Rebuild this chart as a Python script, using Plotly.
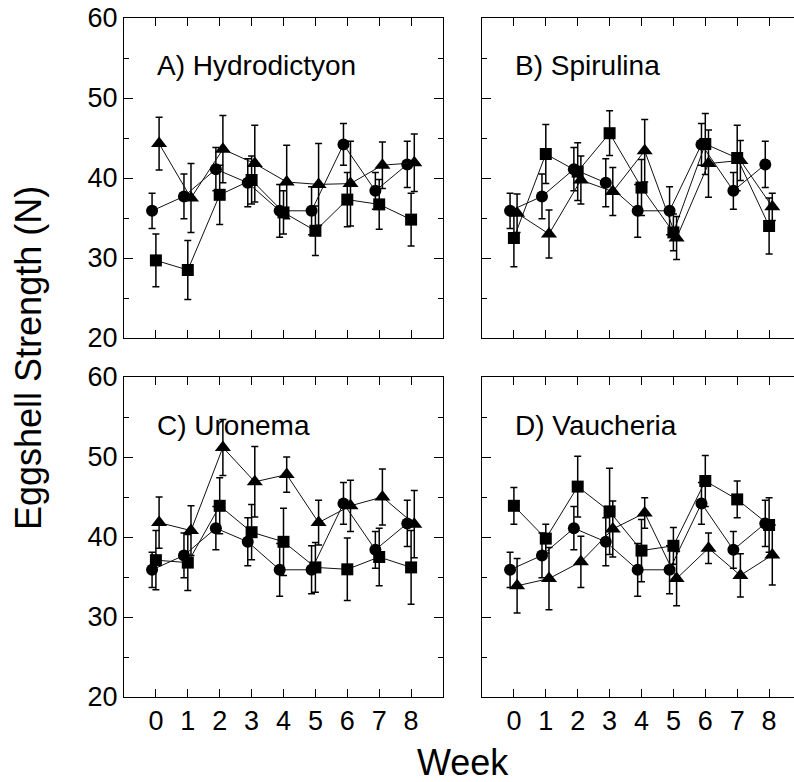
import plotly.graph_objects as go

# ---------------- data ----------------
weeks = [0, 1, 2, 3, 4, 5, 6, 7, 8]
week_labels = ["0", "1", "2", "3", "4", "5", "6", "7", "8"]
y_ticks = [20, 30, 40, 50, 60]
y_tick_labels = ["20", "30", "40", "50", "60"]
y_minor = [25, 35, 45, 55]

panel_titles = ["A) Hydrodictyon", "B) Spirulina", "C) Uronema", "D) Vaucheria"]

control_mean = [35.9, 37.7, 41.1, 39.4, 35.9, 35.9, 44.2, 38.4, 41.7]
control_err = [2.2, 2.8, 2.7, 3.0, 3.3, 3.0, 2.6, 2.3, 2.9]

a_sq_mean = [29.7, 28.5, 37.9, 39.75, 35.7, 33.4, 37.3, 36.7, 34.8]
a_sq_err = [3.3, 3.7, 3.7, 3.0, 2.7, 3.1, 3.4, 3.1, 3.3]
b_sq_mean = [32.5, 43.0, 40.8, 45.6, 38.8, 33.2, 44.25, 42.5, 34.0]
b_sq_err = [3.6, 3.7, 3.6, 2.8, 3.5, 2.3, 3.8, 4.1, 3.5]
c_sq_mean = [37.1, 36.8, 43.9, 40.6, 39.4, 36.2, 35.96, 37.5, 36.2]
c_sq_err = [3.7, 3.5, 3.5, 3.45, 4.2, 3.1, 3.9, 3.6, 4.6]
d_sq_mean = [43.9, 39.8, 46.3, 43.2, 38.3, 38.9, 47.0, 44.7, 41.5]
d_sq_err = [2.3, 1.8, 3.8, 5.4, 3.9, 2.3, 3.2, 2.3, 3.4]

a_tr_mean = [44.3, 37.5, 43.6, 41.8, 39.5, 39.2, 39.3, 41.6, 41.9]
a_tr_err = [3.3, 4.3, 4.2, 4.8, 4.6, 5.1, 5.3, 2.9, 3.6]
b_tr_mean = [35.6, 33.0, 39.75, 38.3, 43.4, 32.5, 41.8, 42.2, 36.4]
b_tr_err = [2.4, 3.0, 3.0, 3.0, 3.9, 2.7, 4.2, 2.5, 1.7]
c_tr_mean = [41.8, 40.8, 51.2, 46.9, 47.8, 41.8, 43.9, 45.0, 41.6]
c_tr_err = [3.2, 3.1, 3.5, 4.4, 2.2, 2.8, 3.2, 3.5, 4.2]
d_tr_mean = [33.9, 34.8, 36.9, 41.0, 43.0, 34.8, 38.6, 35.2, 37.75]
d_tr_err = [3.4, 3.9, 3.2, 3.5, 1.9, 3.4, 1.9, 2.7, 3.75]

W, H = 794, 782
FONT = "Arial, Liberation Sans, sans-serif"


def fx(p):
    return p / W


def fy(p):
    return 1 - p / H


left_dom = [fx(124), fx(443)]
right_dom = [fx(482), 1.0]
week_px = (443 - 124) / 10.0
left_range = [-1, 9]
right_range = [-1, -1 + (W - 482) / week_px]
top_dom = [fy(338), fy(18)]
bot_dom = [fy(697), fy(377)]

offsets = {"circle": -0.12, "square": 0.0, "triangle-up": 0.1}
sizes = {"circle": 12, "square": 12, "triangle-up": 14}

panels = [
    ("x", "y", a_sq_mean, a_sq_err, a_tr_mean, a_tr_err),
    ("x2", "y2", b_sq_mean, b_sq_err, b_tr_mean, b_tr_err),
    ("x3", "y3", c_sq_mean, c_sq_err, c_tr_mean, c_tr_err),
    ("x4", "y4", d_sq_mean, d_sq_err, d_tr_mean, d_tr_err),
]

fig = go.Figure()
for (xa, ya, sqm, sqe, trm, tre) in panels:
    for sym, mean, err in [("circle", control_mean, control_err),
                           ("square", sqm, sqe),
                           ("triangle-up", trm, tre)]:
        fig.add_trace(go.Scatter(
            x=[w + offsets[sym] for w in weeks], y=mean,
            mode="lines+markers", xaxis=xa, yaxis=ya, showlegend=False,
            line=dict(color="#111111", width=1),
            marker=dict(symbol=sym, size=sizes[sym], color="black"),
            error_y=dict(type="data", array=err, visible=True,
                         color="black", thickness=1.5, width=3.5),
        ))


def xcfg(domain, rng, anchor, labels):
    return dict(domain=domain, range=rng, anchor=anchor, automargin=False,
                tickmode="array", tickvals=weeks, ticktext=week_labels,
                ticks="inside", ticklen=8, tickwidth=1, tickcolor="black",
                showline=True, linecolor="black", linewidth=1, mirror="ticks",
                showgrid=False, zeroline=False, showticklabels=labels,
                tickfont=dict(family=FONT, size=27, color="black"))


def ycfg(domain, anchor, labels, mirror):
    return dict(domain=domain, range=[20, 60], anchor=anchor, automargin=False,
                tickmode="array", tickvals=y_ticks, ticktext=y_tick_labels,
                ticks="inside", ticklen=9, tickwidth=1, tickcolor="black",
                minor=dict(tickmode="array", tickvals=y_minor, ticks="inside",
                           ticklen=5, tickwidth=1, tickcolor="black", showgrid=False),
                showline=True, linecolor="black", linewidth=1,
                mirror="ticks" if mirror else False,
                showgrid=False, zeroline=False, showticklabels=labels,
                tickfont=dict(family=FONT, size=27, color="black"))


fig.update_layout(
    template="none",
    width=W, height=H, autosize=False,
    margin=dict(l=0, r=0, t=0, b=0, pad=0, autoexpand=False),
    paper_bgcolor="white", plot_bgcolor="white",
    showlegend=False,
    xaxis=xcfg(left_dom, left_range, "y", False),
    yaxis=ycfg(top_dom, "x", True, True),
    xaxis2=xcfg(right_dom, right_range, "y2", False),
    yaxis2=ycfg(top_dom, "x2", False, False),
    xaxis3=xcfg(left_dom, left_range, "y3", True),
    yaxis3=ycfg(bot_dom, "x3", True, True),
    xaxis4=xcfg(right_dom, right_range, "y4", True),
    yaxis4=ycfg(bot_dom, "x4", False, False),
)

annotations = []
for (xa, ya, *_), title in zip(panels, panel_titles):
    annotations.append(dict(text=title, xref=xa, yref=ya, x=-0.03, y=54.0,
                            xanchor="left", yanchor="middle", showarrow=False,
                            font=dict(family=FONT, size=28, color="black")))
annotations.append(dict(text="Week", xref="paper", yref="paper",
                        x=fx(463), y=fy(762), xanchor="center", yanchor="middle",
                        showarrow=False, font=dict(family=FONT, size=36, color="black")))
annotations.append(dict(text="Eggshell Strength (N)", xref="paper", yref="paper",
                        x=fx(28), y=fy(358), xanchor="center", yanchor="middle",
                        textangle=-90, showarrow=False,
                        font=dict(family=FONT, size=36, color="black")))
fig.update_layout(annotations=annotations)

fig.write_html("out.html")
